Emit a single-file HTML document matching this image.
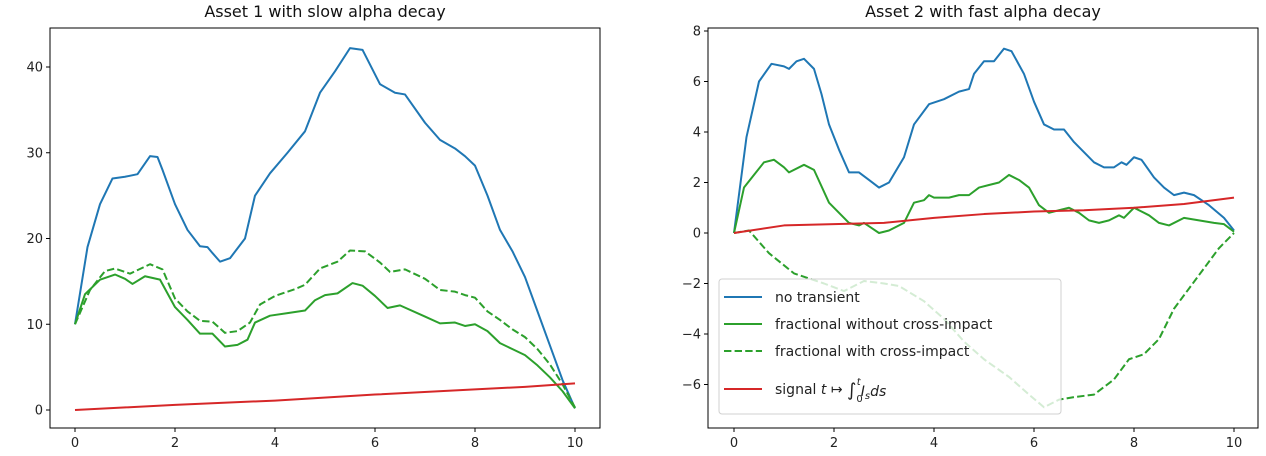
<!DOCTYPE html>
<html><head><meta charset="utf-8"><style>
html,body{margin:0;padding:0;background:#fff;}
svg{display:block;font-family:"DejaVu Sans","Liberation Sans",sans-serif;}
</style></head><body>
<svg id="chart" width="1266" height="456" viewBox="0 0 1266 456"></svg>
<script>
// ---- data ----
const a1BlueX=[0,0.25,0.5,0.75,1,1.25,1.5,1.65,1.75,2,2.25,2.5,2.65,2.75,2.9,3.1,3.4,3.6,3.9,4.25,4.6,4.9,5.2,5.5,5.75,6.1,6.4,6.6,7.0,7.3,7.6,7.8,8.0,8.25,8.5,8.75,9,9.25,9.5,9.75,10];
const a1BlueY=[10,19,24,27,27.2,27.5,29.6,29.5,28,24,21,19.1,19,18.3,17.3,17.7,20,25,27.6,30,32.5,37,39.5,42.2,42,38,37,36.8,33.5,31.5,30.5,29.6,28.5,25,21,18.5,15.5,11.5,7.5,3.5,0.2];
const a1GreenX=[0,0.2,0.5,0.8,1,1.15,1.4,1.7,2,2.25,2.5,2.75,3,3.25,3.45,3.6,3.9,4.25,4.6,4.8,5.0,5.25,5.55,5.75,6.0,6.25,6.5,7.0,7.3,7.6,7.8,8.0,8.25,8.5,8.75,9.0,9.25,9.5,9.75,10];
const a1GreenY=[10,13.5,15.2,15.8,15.3,14.7,15.6,15.2,12,10.5,8.9,8.9,7.4,7.6,8.2,10.2,11,11.3,11.6,12.8,13.4,13.6,14.8,14.5,13.3,11.9,12.2,10.9,10.1,10.2,9.8,10,9.2,7.8,7.1,6.4,5.2,3.8,2.2,0.2];
const a1DashX=[0,0.3,0.6,0.8,1.1,1.5,1.75,2,2.25,2.5,2.75,3,3.25,3.5,3.7,4.0,4.4,4.6,4.9,5.25,5.5,5.8,6.1,6.3,6.6,7.0,7.3,7.6,7.8,8.0,8.25,8.5,8.75,9,9.25,9.5,9.75,10];
const a1DashY=[10,14,16.2,16.5,15.9,17,16.4,13,11.5,10.4,10.3,9,9.2,10.2,12.3,13.3,14.1,14.6,16.5,17.3,18.6,18.5,17.2,16.1,16.4,15.3,14,13.8,13.4,13.1,11.5,10.5,9.4,8.5,7.1,5.3,3,0.3];
const a1RedX=[0,2,4,6,8,9,10];
const a1RedY=[0,0.6,1.1,1.8,2.4,2.7,3.1];
const a2BlueX=[0,0.25,0.5,0.75,1.0,1.1,1.25,1.4,1.6,1.75,1.9,2.1,2.3,2.5,2.7,2.9,3.1,3.4,3.6,3.9,4.2,4.5,4.7,4.8,5.0,5.2,5.4,5.55,5.8,6.0,6.2,6.4,6.6,6.8,7.0,7.2,7.4,7.6,7.75,7.85,8.0,8.15,8.4,8.6,8.8,9.0,9.2,9.5,9.8,10];
const a2BlueY=[0,3.8,6.0,6.7,6.6,6.5,6.8,6.9,6.5,5.5,4.3,3.3,2.4,2.4,2.1,1.8,2.0,3.0,4.3,5.1,5.3,5.6,5.7,6.3,6.8,6.8,7.3,7.2,6.3,5.2,4.3,4.1,4.1,3.6,3.2,2.8,2.6,2.6,2.8,2.7,3.0,2.9,2.2,1.8,1.5,1.6,1.5,1.1,0.6,0.1];
const a2GreenX=[0,0.2,0.4,0.6,0.8,1.0,1.1,1.4,1.6,1.9,2.1,2.3,2.5,2.6,2.75,2.9,3.1,3.4,3.6,3.8,3.9,4.0,4.3,4.5,4.7,4.9,5.1,5.3,5.5,5.7,5.9,6.1,6.3,6.5,6.7,6.9,7.1,7.3,7.5,7.7,7.8,8.0,8.3,8.5,8.7,9.0,9.3,9.6,9.8,10];
const a2GreenY=[0,1.8,2.3,2.8,2.9,2.6,2.4,2.7,2.5,1.2,0.8,0.4,0.3,0.4,0.2,0,0.1,0.4,1.2,1.3,1.5,1.4,1.4,1.5,1.5,1.8,1.9,2.0,2.3,2.1,1.8,1.1,0.8,0.9,1.0,0.8,0.5,0.4,0.5,0.7,0.6,1.0,0.7,0.4,0.3,0.6,0.5,0.4,0.35,0.05];
const a2DashX=[0,0.3,0.7,1.2,1.5,1.8,2.2,2.6,3,3.3,3.8,4.2,4.6,5.0,5.5,5.9,6.2,6.5,6.8,7.2,7.6,7.9,8.2,8.5,8.8,9.1,9.4,9.7,10];
const a2DashY=[0,0.1,-0.8,-1.6,-1.8,-2.0,-2.3,-1.9,-2.0,-2.1,-2.7,-3.4,-4.3,-5.0,-5.7,-6.4,-6.9,-6.6,-6.5,-6.4,-5.8,-5.0,-4.8,-4.2,-3.0,-2.2,-1.4,-0.6,0.0];
const a2RedX=[0,1,2,3,4,5,6,7,8,9,10];
const a2RedY=[0,0.3,0.35,0.4,0.6,0.75,0.85,0.9,1.0,1.15,1.4];
const xTicks=[0,2,4,6,8,10];
const a1YTicks=[0,10,20,30,40];
const a2YTicks=[-6,-4,-2,0,2,4,6,8];
const legendLabels=["no transient","fractional without cross-impact","fractional with cross-impact"];

const NS="http://www.w3.org/2000/svg";
const svg=document.getElementById('chart');
function mk(tag,attrs,parent){const e=document.createElementNS(NS,tag);for(const k in attrs)e.setAttribute(k,attrs[k]);(parent||svg).appendChild(e);return e;}
const BLUE="#1f77b4",GREEN="#2ca02c",RED="#d62728";

function panel(opt){
  const g=mk('g',{});
  
  
  const sx=v=>opt.x0+(v-0)*opt.xs;
  const sy=v=>opt.y0-v*opt.ys;
  function line(xs,ys,color,dash,name){
    let d='';for(let i=0;i<xs.length;i++)d+=(i?'L':'M')+sx(xs[i]).toFixed(2)+' '+sy(ys[i]).toFixed(2);
    const p=mk('path',{d:d,fill:'none',stroke:color,'stroke-width':2,'stroke-linejoin':'round'},g);
    if(dash)p.setAttribute('stroke-dasharray','7.4,3.2');
    
    
  }
  line(opt.bx,opt.by,BLUE,false,'series-no-transient');
  line(opt.gx,opt.gy,GREEN,false,'series-fractional-without-cross-impact');
  line(opt.dx,opt.dy,GREEN,true,'series-fractional-with-cross-impact');
  line(opt.rx,opt.ry,RED,false,'series-signal');
  const fr=mk('rect',{x:opt.L,y:opt.T,width:opt.R-opt.L,height:opt.B-opt.T,fill:'none',stroke:'#000','stroke-width':1},g);
  
  
  xTicks.forEach(v=>{
    const x=sx(v);
    mk('line',{x1:x,x2:x,y1:opt.B,y2:opt.B+4,stroke:'#000'},g);
    const t=mk('text',{x:x,y:opt.B+19,'text-anchor':'middle','font-size':13,fill:'#222'},g);
    t.textContent=v;
    
    
  });
  opt.yt.forEach(v=>{
    const y=sy(v);
    mk('line',{x1:opt.L-4,x2:opt.L,y1:y,y2:y,stroke:'#000'},g);
    const t=mk('text',{x:opt.L-7,y:y+4.5,'text-anchor':'end','font-size':13,fill:'#222'},g);
    t.textContent=(v<0?'\u2212'+(-v):v);
    
    
  });
  const ti=mk('text',{x:(opt.L+opt.R)/2,y:17,'text-anchor':'middle','font-size':16,fill:'#111'},g);
  ti.textContent=opt.title;
  
  
  return g;
}
panel({name:'panel-asset-1',L:50,R:600,T:28,B:428,x0:75,xs:50,y0:410,ys:8.575,yt:a1YTicks,title:'Asset 1 with slow alpha decay',
  bx:a1BlueX,by:a1BlueY,gx:a1GreenX,gy:a1GreenY,dx:a1DashX,dy:a1DashY,rx:a1RedX,ry:a1RedY});
panel({name:'panel-asset-2',L:708,R:1258,T:28,B:428,x0:734,xs:50,y0:233,ys:25.25,yt:a2YTicks,title:'Asset 2 with fast alpha decay',
  bx:a2BlueX,by:a2BlueY,gx:a2GreenX,gy:a2GreenY,dx:a2DashX,dy:a2DashY,rx:a2RedX,ry:a2RedY});

// legend
const lg=mk('g',{});


mk('rect',{x:719,y:279,width:342,height:135,rx:3,fill:'rgba(255,255,255,0.8)',stroke:'#d0d0d0','stroke-width':1},lg);
const colors=[BLUE,GREEN,GREEN];
const rowsY=[297,324,351];
legendLabels.forEach((lab,i)=>{
  const l=mk('line',{x1:724,x2:762,y1:rowsY[i],y2:rowsY[i],stroke:colors[i],'stroke-width':2},lg);
  if(i===2)l.setAttribute('stroke-dasharray','7.4,3.2');
  const t=mk('text',{x:775,y:rowsY[i]+5,'font-size':14,fill:'#222'},lg);
  t.textContent=lab;
  
  
});
mk('line',{x1:724,x2:762,y1:389,y2:389,stroke:RED,'stroke-width':2},lg);
const st=mk('text',{x:775,y:394,'font-size':14,fill:'#222'},lg);


st.innerHTML='signal <tspan font-style="italic">t</tspan> \u21a6 <tspan font-size="18" dy="2">\u222b</tspan><tspan font-size="10" dy="6">0</tspan><tspan font-size="10" font-style="italic" dx="-6" dy="-17">t</tspan><tspan font-style="italic" dy="11">I</tspan><tspan font-style="italic" font-size="10" dy="3">s</tspan><tspan font-style="italic" dy="-3">ds</tspan>';
</script>
</body></html>
